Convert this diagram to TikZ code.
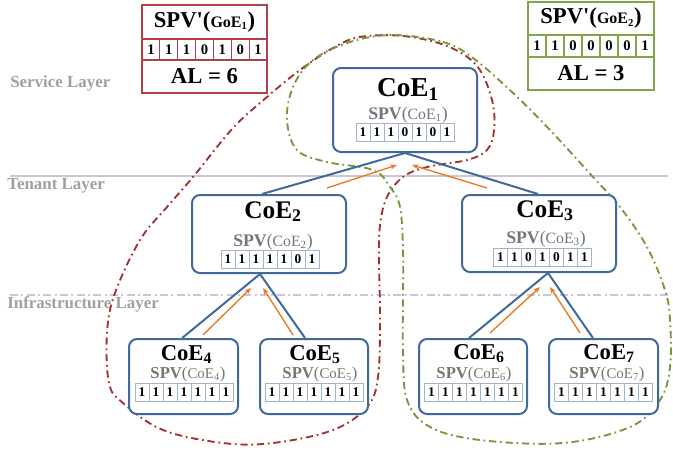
\documentclass[tikz,border=0pt]{standalone}
\usepackage{fontspec}
\setmainfont{Liberation Serif}
\usetikzlibrary{arrows.meta}
\definecolor{coeblue}{RGB}{65,105,155}
\definecolor{bitblue}{RGB}{160,180,205}
\definecolor{flow}{RGB}{235,120,30}
\definecolor{spvgray}{RGB}{118,118,118}
\definecolor{layergray}{RGB}{160,160,160}
\definecolor{layerline}{RGB}{205,196,220}
\definecolor{goered}{RGB}{175,65,70}
\definecolor{goegreen}{RGB}{130,165,75}
\definecolor{loopred}{RGB}{160,50,50}
\definecolor{loopgreen}{RGB}{120,150,60}
\tikzset{
  coebox/.style={draw=coeblue, line width=1.5pt, rounded corners=6pt, fill=white},
  bitcell/.style={draw=bitblue, line width=0.5pt, fill=white, inner sep=0pt,
    minimum width=10.5pt, minimum height=13.5pt, font=\fontsize{10}{10}\selectfont\bfseries},
  tree/.style={draw=coeblue, line width=1.5pt},
  upflow/.style={draw=flow, line width=1pt, -{Stealth[length=5pt,width=3.8pt]}},
  layerlabel/.style={text=layergray, anchor=base west, inner sep=0pt, font=\fontsize{12.7}{12.7}\selectfont\bfseries},
  titletext/.style={anchor=base, inner sep=0pt},
  goecellR/.style={draw=goered, line width=0.8pt, inner sep=0pt, font=\bfseries},
  goecellG/.style={draw=goegreen, line width=0.8pt, inner sep=0pt, font=\bfseries},
  redloop/.style={draw=loopred, line width=1.4pt, dash pattern=on 5.5pt off 2.8pt on 1.3pt off 2.8pt},
  greenloop/.style={draw=loopgreen, line width=1.4pt, dash pattern=on 5.5pt off 2.8pt on 1.3pt off 2.8pt},
}
\newcommand\coetitle[2]{\fontsize{#2}{#2}\selectfont\bfseries CoE\textsubscript{#1}}
\newcommand\spvline[3]{{\color{spvgray}\fontsize{#2}{#2}\selectfont\bfseries SPV\mdseries(\fontsize{#3}{#3}\selectfont CoE\textsubscript{#1}\fontsize{#2}{#2}\selectfont)}}
\newcommand\bitrow[4]{\foreach \b [count=\i] in {#4} {\node[bitcell] (#1-\i) at ({#2+(\i-4)*14},#3) {\b};}}
\begin{document}
\begin{tikzpicture}[x=0.75pt,y=-0.75pt]
\useasboundingbox (0,0) rectangle (673,453);
% layer lines and labels
\coordinate (tl0) at (10,176); \coordinate (tl1) at (668,176);
\coordinate (il0) at (10,295); \coordinate (il1) at (668,295);
\draw[layerline, line width=1.1pt] (tl0) -- (tl1);
\draw[layerline, line width=1.1pt, dash pattern=on 6pt off 2.5pt on 1.5pt off 2.5pt] (il0) -- (il1);
\node[layerlabel] (service) at (10,87) {Service Layer};
\node[layerlabel] (tenant) at (7,189) {Tenant Layer};
\node[layerlabel] (infra) at (7,308) {Infrastructure Layer};

% group loops
\draw[redloop] plot[smooth cycle, tension=0.6] coordinates {
 (360,37) (403,36) (447,46) (477,66) (492,100) (494,130) (487,150) (467,160) (427,167)
 (403,177) (387,197) (380,225) (379,260) (380,317) (378,377) (367,407) (333,430)
 (273,443) (223,443) (163,430) (123,403) (109,383) (107,333) (115,293) (140,240)
 (167,207) (193,177) (233,128) (267,97) (300,70) (333,48)};
\draw[greenloop] plot[smooth cycle, tension=0.6] coordinates {
 (393,35) (443,42) (473,58) (513,93) (550,130) (593,177) (620,207) (647,247) (665,290)
 (670,320) (670,367) (660,400) (630,427) (563,443) (480,440) (430,427) (407,400)
 (403,350) (403,300) (403,250) (400,207) (390,187) (373,170) (327,162) (297,150)
 (287,120) (293,87) (313,60) (350,42)};

% GoE summary boxes
\node[goecellR, minimum width=93.75pt, minimum height=25.5pt] (goe1t) at (204.5,22)
  {\fontsize{17}{17}\selectfont SPV\textquotesingle(\fontsize{12}{12}\selectfont GoE\textsubscript{1}\fontsize{17}{17}\selectfont)};
\foreach \b [count=\i] in {1,1,1,0,1,0,1}
  \node[goecellR, minimum width=13.39pt, minimum height=15.75pt, font=\fontsize{11}{11}\selectfont\bfseries] (goe1-\i) at ({142+(\i-0.5)*17.857},49.5) {\b};
\node[goecellR, minimum width=93.75pt, minimum height=24.75pt, font=\fontsize{17}{17}\selectfont\bfseries] (goe1a) at (204.5,76.5) {AL = 6};

\node[goecellG, minimum width=94.5pt, minimum height=24.75pt] (goe2t) at (591,18.5)
  {\fontsize{17}{17}\selectfont SPV\textquotesingle(\fontsize{12}{12}\selectfont GoE\textsubscript{2}\fontsize{17}{17}\selectfont)};
\foreach \b [count=\i] in {1,1,0,0,0,0,1}
  \node[goecellG, minimum width=13.5pt, minimum height=16.5pt, font=\fontsize{11}{11}\selectfont\bfseries] (goe2-\i) at ({528+(\i-0.5)*18},46) {\b};
\node[goecellG, minimum width=94.5pt, minimum height=24.75pt, font=\fontsize{17}{17}\selectfont\bfseries] (goe2a) at (591,73.5) {AL = 3};

% CoE boxes
\node[coebox, minimum width=108pt, minimum height=63pt] (coe1) at (405,110) {};
\node[coebox, minimum width=115.5pt, minimum height=58.5pt] (coe2) at (269,234) {};
\node[coebox, minimum width=115.5pt, minimum height=57.75pt] (coe3) at (539,233.5) {};
\node[coebox, minimum width=81.75pt, minimum height=56.25pt] (coe4) at (183.5,376.5) {};
\node[coebox, minimum width=81pt, minimum height=56.25pt] (coe5) at (314,376.5) {};
\node[coebox, minimum width=81pt, minimum height=56.25pt] (coe6) at (473,376.5) {};
\node[coebox, minimum width=81.75pt, minimum height=56.25pt] (coe7) at (603.5,376.5) {};

% tree
\draw[tree] (coe1.south) -- ([xshift=-5.25pt]coe2.north);
\draw[tree] (coe1.south) -- ([xshift=-0.75pt]coe3.north);
\draw[tree] ([xshift=-6.75pt]coe2.south) -- ([xshift=-1pt]coe4.north);
\draw[tree] ([xshift=-6.75pt]coe2.south) -- ([xshift=-6.75pt]coe5.north);
\draw[tree] ([xshift=6.75pt]coe3.south) -- ([xshift=-3pt]coe6.north);
\draw[tree] ([xshift=6.75pt]coe3.south) -- ([xshift=-7.9pt]coe7.north);

% upward flows
\coordinate (f2s) at (327,188); \coordinate (f2e) at (397,165);
\coordinate (f3s) at (487,188); \coordinate (f3e) at (412,165);
\coordinate (f4s) at (203,335); \coordinate (f4e) at (251,288);
\coordinate (f5s) at (293,335); \coordinate (f5e) at (263,288);
\coordinate (f6s) at (490,333); \coordinate (f6e) at (540,287);
\coordinate (f7s) at (580,333); \coordinate (f7e) at (550,287);
\foreach \k in {2,...,7} \draw[upflow] (f\k s) -- (f\k e);

% texts in CoE boxes
\node[titletext] (t1) at (408,96) {\coetitle{1}{20.5}};
\node[titletext] (s1) at (408,119) {\spvline{1}{13.3}{11.8}};
\bitrow{b1}{405}{132}{1,1,1,0,1,0,1}

\node[titletext] (t2) at (273,218) {\coetitle{2}{19}};
\node[titletext] (s2) at (273,246) {\spvline{2}{13.3}{11.8}};
\bitrow{b2}{270}{259}{1,1,1,1,1,0,1}

\node[titletext] (t3) at (545,217) {\coetitle{3}{19}};
\node[titletext] (s3) at (546,243) {\spvline{3}{13.3}{11.8}};
\bitrow{b3}{542.5}{257.5}{1,1,0,1,0,1,1}

\node[titletext] (t4) at (186.5,360) {\coetitle{4}{17}};
\node[titletext] (s4) at (188,378) {\spvline{4}{12.5}{11.2}};
\bitrow{b4}{184}{392}{1,1,1,1,1,1,1}

\node[titletext] (t5) at (315,360) {\coetitle{5}{17}};
\node[titletext] (s5) at (320,378) {\spvline{5}{12.5}{11.2}};
\bitrow{b5}{314}{392}{1,1,1,1,1,1,1}

\node[titletext] (t6) at (479,359) {\coetitle{6}{17}};
\node[titletext] (s6) at (474,378) {\spvline{6}{12.5}{11.2}};
\bitrow{b6}{473.5}{392}{1,1,1,1,1,1,1}

\node[titletext] (t7) at (609,359) {\coetitle{7}{17}};
\node[titletext] (s7) at (607,378) {\spvline{7}{12.5}{11.2}};
\bitrow{b7}{603.5}{392}{1,1,1,1,1,1,1}
\end{tikzpicture}
\end{document}
